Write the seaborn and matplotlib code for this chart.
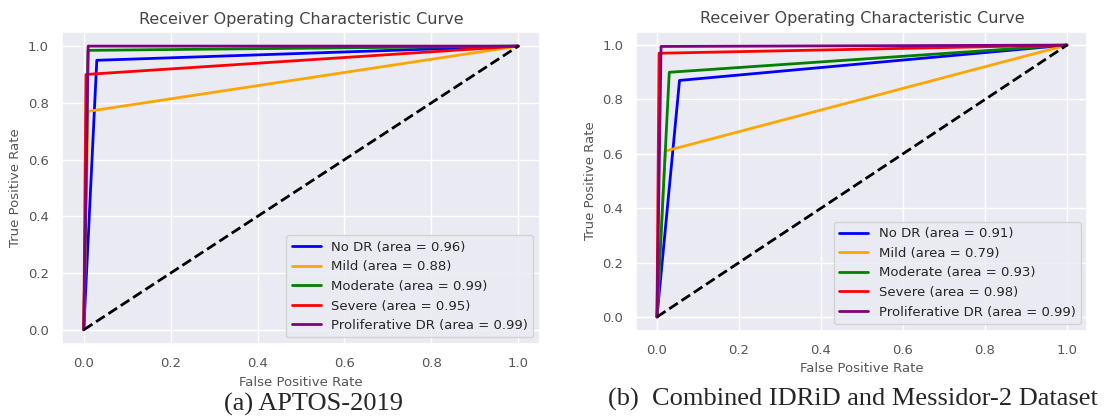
import numpy as np
import matplotlib.pyplot as plt
import seaborn as sns

sns.set_theme(style='darkgrid')
plt.rcParams['font.family'] = ['DejaVu Sans']

classes = ['No DR', 'Mild', 'Moderate', 'Severe', 'Proliferative DR']
colors = ['blue', 'orange', 'green', 'red', 'purple']

# (a) APTOS-2019 : fpr / tpr per class (0 -> elbow -> 1)
fpr_a = [[0, 0.03, 1], [0, 0.01, 1], [0, 0.01, 1], [0, 0.005, 1], [0, 0.01, 1]]
tpr_a = [[0, 0.95, 1], [0, 0.77, 1], [0, 0.985, 1], [0, 0.90, 1], [0, 1.0, 1]]
auc_a = [0.96, 0.88, 0.99, 0.95, 0.99]

# (b) Combined IDRiD and Messidor-2
fpr_b = [[0, 0.055, 1], [0, 0.02, 1], [0, 0.03, 1], [0, 0.005, 1], [0, 0.01, 1]]
tpr_b = [[0, 0.87, 1], [0, 0.61, 1], [0, 0.90, 1], [0, 0.97, 1], [0, 0.995, 1]]
auc_b = [0.91, 0.79, 0.93, 0.98, 0.99]

captions = ['(a) APTOS-2019', '(b)  Combined IDRiD and Messidor-2 Dataset']

fig = plt.figure(figsize=(11.1, 4.2), dpi=100)
ax1 = fig.add_axes([0.0559, 0.181, 0.4306, 0.743])
ax2 = fig.add_axes([0.5734, 0.213, 0.4063, 0.712])


def roc_panel(ax, fprs, tprs, aucs):
    for i in range(len(classes)):
        sns.lineplot(x=fprs[i], y=tprs[i], sort=False, color=colors[i], lw=2,
                     label='%s (area = %.2f)' % (classes[i], aucs[i]), ax=ax)
    sns.lineplot(x=[0, 1], y=[0, 1], color='black', lw=2, linestyle='--', ax=ax)
    ax.set_xlim(-0.05, 1.05)
    ax.set_ylim(-0.05, 1.05)
    ax.set_xticks([0, 0.2, 0.4, 0.6, 0.8, 1.0])
    ax.set_yticks([0, 0.2, 0.4, 0.6, 0.8, 1.0])
    ax.set_xlabel('False Positive Rate', fontsize=9.5, color='#555555')
    ax.set_ylabel('True Positive Rate', fontsize=9.5, color='#555555')
    ax.set_title('Receiver Operating Characteristic Curve', fontsize=11.5, color='#444444')
    ax.tick_params(labelsize=9.5, labelcolor='#555555')
    ax.legend(loc='lower right', fontsize=9.5, handlelength=2.2)


roc_panel(ax1, fpr_a, tpr_a, auc_a)
roc_panel(ax2, fpr_b, tpr_b, auc_b)

fig.text(0.282, 1 - 404 / 420, captions[0], ha='center', va='center',
         fontsize=19, family='Liberation Serif')
fig.text(0.768, 1 - 399 / 420, captions[1], ha='center', va='center',
         fontsize=19, family='Liberation Serif')

fig.savefig('out.png', dpi=100)
